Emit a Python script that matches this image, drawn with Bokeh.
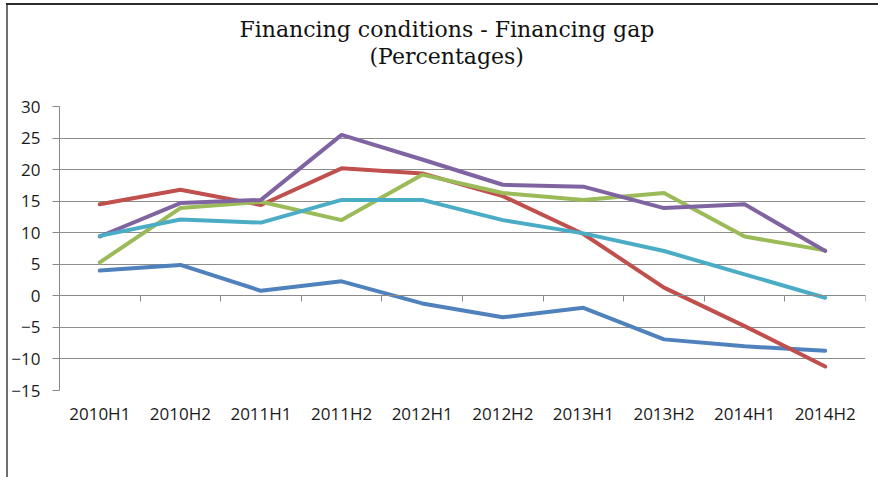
from bokeh.plotting import figure
from bokeh.models import Range1d, FixedTicker, LinearAxis, Legend, LegendItem, Title
from bokeh.embed import file_html
from bokeh.resources import INLINE

categories = ["2010H1", "2010H2", "2011H1", "2011H2", "2012H1",
              "2012H2", "2013H1", "2013H2", "2014H1", "2014H2"]
germany = [4.0, 4.9, 0.8, 2.3, -1.2, -3.4, -1.9, -6.9, -8.0, -8.7]
spain = [14.5, 16.8, 14.4, 20.2, 19.4, 15.8, 9.8, 1.3, -4.8, -11.2]
france = [5.3, 13.9, 14.9, 12.0, 19.2, 16.3, 15.2, 16.3, 9.4, 7.2]
italy = [9.4, 14.7, 15.2, 25.5, 21.6, 17.6, 17.3, 13.9, 14.5, 7.1]
euro_area = [9.5, 12.1, 11.6, 15.2, 15.2, 12.0, 9.9, 7.1, 3.4, -0.3]
y_ticks = [-15, -10, -5, 0, 5, 10, 15, 20, 25, 30]
title_text = "Financing  conditions - Financing gap"
subtitle_text = "(Percentages)"

series = [
    ("Germany", germany, "#4F81BD"),
    ("Spain", spain, "#C0504D"),
    ("France", france, "#9BBB59"),
    ("Italy", italy, "#8064A2"),
    ("Euro area", euro_area, "#4BACC6"),
]

xs = list(range(len(categories)))
FONT = "Open Sans"
SERIF = "DejaVu Serif"

p = figure(frame_width=806, frame_height=284,
           x_range=Range1d(-0.5, len(categories) - 0.5),
           y_range=Range1d(y_ticks[0], y_ticks[-1]),
           output_backend="svg", toolbar_location=None,
           min_border_left=59, min_border_right=13,
           min_border_top=106, min_border_bottom=87)
xa = p.xaxis[0]
ya = p.yaxis[0]
p.outline_line_color = None
p.background_fill_color = "white"
p.border_fill_alpha = 0
p.styles = {"background": "linear-gradient(#2b2b2b,#2b2b2b) 6px 3px / 100% 2px no-repeat, "
                          "linear-gradient(#6e6e6e,#6e6e6e) 6px 3px / 2px 100% no-repeat, white"}

# bottom category labels
xa.ticker = FixedTicker(ticks=xs)
xa.major_label_overrides = {i: c for i, c in zip(xs, categories)}
xa.axis_line_color = None
xa.major_tick_line_color = None
xa.minor_tick_line_color = None
xa.major_label_standoff = 5
xa.major_label_text_font = FONT
xa.major_label_text_font_size = "17px"
xa.major_label_text_color = "#1a1a1a"

ya.ticker = FixedTicker(ticks=y_ticks)
ya.axis_line_color = "#8a8a8a"
ya.major_tick_line_color = "#8a8a8a"
ya.major_tick_in = 0
ya.major_tick_out = 7
ya.minor_tick_line_color = None
ya.major_label_standoff = 12
ya.major_label_text_font = FONT
ya.major_label_text_font_size = "17px"
ya.major_label_text_color = "#1a1a1a"

# titles (stacked outward from the frame: spacer, subtitle, title)
p.title = Title(text=title_text, align="left", offset=180, vertical_align="middle",
                standoff=0, text_font=SERIF, text_font_size="22px",
                text_font_style="normal", text_color="#111111")
p.add_layout(Title(text=" ", align="left", vertical_align="middle", standoff=34,
                   text_font_size="1px"), "above")
p.add_layout(Title(text=subtitle_text, align="left", offset=310, vertical_align="middle",
                   standoff=0, text_font=SERIF, text_font_size="22px",
                   text_font_style="normal", text_color="#111111"), "above")

# axis at zero with category boundary ticks
zero_axis = LinearAxis(fixed_location=0,
                       ticker=FixedTicker(ticks=[i - 0.5 for i in range(len(categories) + 1)]),
                       axis_line_color="#8a8a8a", major_tick_line_color="#8a8a8a",
                       major_tick_in=0, major_tick_out=6,
                       minor_tick_line_color=None,
                       major_label_overrides={i - 0.5: "" for i in range(len(categories) + 1)})
p.add_layout(zero_axis, "below")

p.xgrid.grid_line_color = None
p.ygrid.ticker = FixedTicker(ticks=y_ticks)
p.ygrid.grid_line_color = "#8c8c8c"
p.ygrid.grid_line_width = 1

items = []
for name, vals, col in series:
    r = p.line(xs, vals, line_width=4, line_color=col,
               line_cap="round", line_join="round")
    items.append(LegendItem(label=name, renderers=[r]))

legend = Legend(items=items, orientation="horizontal", location="center",
                glyph_width=40, glyph_height=20,
                label_standoff=3, spacing=23,
                label_text_font=FONT, label_text_font_size="17px",
                label_text_color="#1a1a1a", border_line_color=None,
                background_fill_alpha=0, margin=13, padding=0)
p.add_layout(legend, "below")

open("out.html", "w").write(file_html(p, INLINE))
